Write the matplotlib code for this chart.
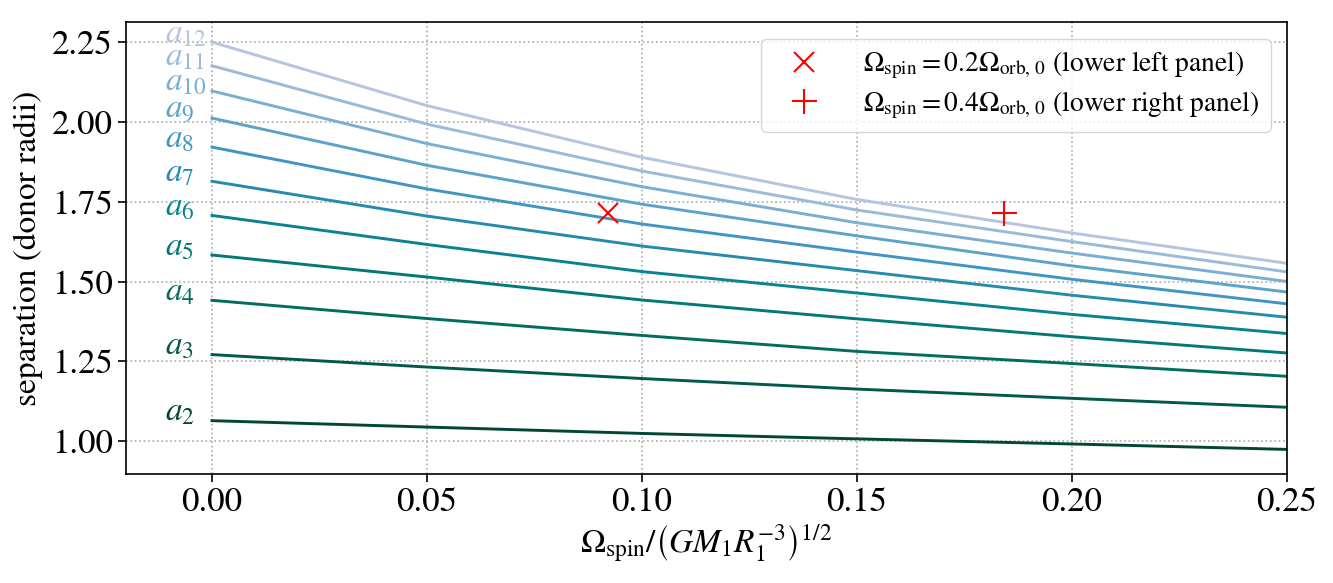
import matplotlib
matplotlib.use("Agg")
import matplotlib.pyplot as plt
import numpy as np

plt.rcParams["font.family"] = ["STIXGeneral", "DejaVu Serif"]
plt.rcParams["mathtext.fontset"] = "stix"

omega_spin = [0.0, 0.05, 0.10, 0.15, 0.20, 0.25]

# separations a_n (donor radii), n = 2..12
resonance_n = [2, 3, 4, 5, 6, 7, 8, 9, 10, 11, 12]
a2 = [1.064, 1.044, 1.024, 1.007, 0.991, 0.974]
a3 = [1.271, 1.232, 1.196, 1.163, 1.134, 1.106]
a4 = [1.441, 1.384, 1.331, 1.281, 1.243, 1.203]
a5 = [1.583, 1.514, 1.442, 1.383, 1.327, 1.276]
a6 = [1.707, 1.616, 1.531, 1.464, 1.397, 1.337]
a7 = [1.814, 1.705, 1.611, 1.534, 1.457, 1.388]
a8 = [1.921, 1.790, 1.680, 1.592, 1.507, 1.430]
a9 = [2.012, 1.864, 1.742, 1.643, 1.549, 1.467]
a10 = [2.097, 1.932, 1.797, 1.684, 1.589, 1.500]
a11 = [2.176, 1.993, 1.846, 1.724, 1.625, 1.530]
a12 = [2.250, 2.051, 1.889, 1.757, 1.652, 1.557]
separations = [a2, a3, a4, a5, a6, a7, a8, a9, a10, a11, a12]

# panel markers
marker_x = [0.0921, 0.1842]
marker_y = [1.715, 1.716]
marker_labels = [
    r"$\Omega_{\rm spin} = 0.2\Omega_{\rm orb,\,0}$ (lower left panel)",
    r"$\Omega_{\rm spin} = 0.4\Omega_{\rm orb,\,0}$ (lower right panel)",
]

fig = plt.figure(figsize=(13.33, 5.83), dpi=100)
ax = fig.add_axes([0.0945, 0.187, 0.871, 0.775])

cmap = plt.get_cmap("PuBuGn")
colors = cmap(np.linspace(1.0, 0.33, len(resonance_n)))

for n, sep, c in zip(resonance_n, separations, colors):
    ax.plot(omega_spin, sep, color=c, lw=2.1)
    ax.text(-0.011, sep[0], rf"$a_{{{n}}}$", color=c, fontsize=24,
            ha="left", va="baseline")

ax.plot(marker_x[0], marker_y[0], "x", color="red", ms=15, mew=1.5,
        label=marker_labels[0], linestyle="none")
ax.plot(marker_x[1], marker_y[1], "+", color="red", ms=18, mew=1.5,
        label=marker_labels[1], linestyle="none")

ax.set_xlim(-0.02, 0.25)
ax.set_ylim(0.897, 2.3125)
ax.set_xticks([0.0, 0.05, 0.10, 0.15, 0.20, 0.25])
ax.set_yticks([1.0, 1.25, 1.5, 1.75, 2.0, 2.25])
ax.xaxis.set_major_formatter(matplotlib.ticker.FormatStrFormatter("%.2f"))
ax.yaxis.set_major_formatter(matplotlib.ticker.FormatStrFormatter("%.2f"))
ax.tick_params(labelsize=25, length=6, width=1.2)
ax.grid(True, linestyle=":", color="#aaaaaa", lw=1.2)
for sp in ax.spines.values():
    sp.set_linewidth(1.2)

ax.set_xlabel(r"$\Omega_{\rm spin}/\left(GM_1R_1^{-3}\right)^{1/2}$", fontsize=24,
              labelpad=2)
ax.set_ylabel("separation (donor radii)", fontsize=24, labelpad=6)

ax.legend(loc="upper right", fontsize=19.8, borderaxespad=0.6,
          labelspacing=0.3, handletextpad=1.0, handlelength=2.3)

fig.savefig("out.png", dpi=100)
